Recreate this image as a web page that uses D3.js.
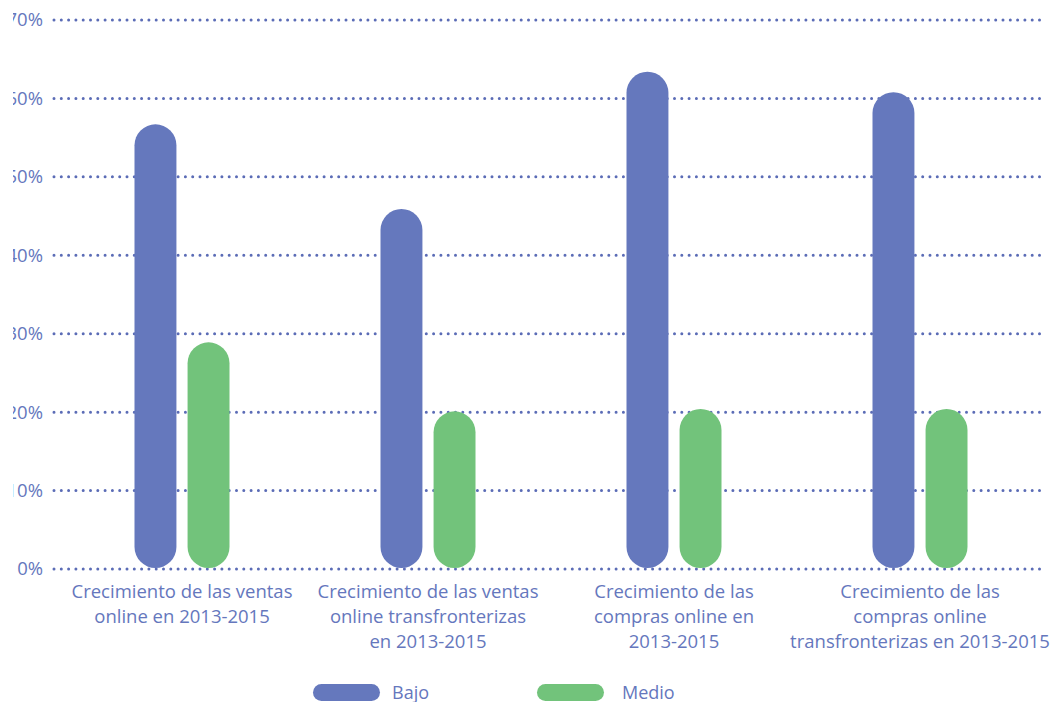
<!DOCTYPE html>
<html>
<head>
<meta charset="utf-8">
<script src="https://cdn.jsdelivr.net/npm/d3@7"></script>
<style>
  body { margin: 0; background: #fff; }
  svg text { font-family: "Open Sans", "Noto Sans", sans-serif; fill: #6577bd; }
</style>
</head>
<body>
<div id="chart"></div>
<script>
var categories = [
  ["Crecimiento de las ventas", "online en 2013-2015"],
  ["Crecimiento de las ventas", "online transfronterizas", "en 2013-2015"],
  ["Crecimiento de las", "compras online en", "2013-2015"],
  ["Crecimiento de las", "compras online", "transfronterizas en 2013-2015"]
];
var seriesNames = ["Bajo", "Medio"];
var bajo = [56.7, 45.9, 63.4, 60.8];
var medio = [28.9, 20.1, 20.4, 20.4];
var yTicks = [0, 10, 20, 30, 40, 50, 60, 70];

var width = 1055, height = 702;
var colors = { Bajo: "#6578bd", Medio: "#72c37b" };

var svg = d3
  .select("#chart")
  .append("svg")
  .attr("width", width)
  .attr("height", height);

var x = d3
  .scaleBand()
  .domain(d3.range(categories.length))
  .range([59, 1043]);

var x1 = d3
  .scaleBand()
  .domain(seriesNames)
  .range([x.bandwidth() / 2 - 47.5, x.bandwidth() / 2 + 47.5])
  .paddingInner(0.21);

var y = d3.scaleLinear().domain([0, 70]).range([569, 20]);

// dotted gridlines
svg
  .append("g")
  .selectAll("line")
  .data(yTicks)
  .enter()
  .append("line")
  .attr("x1", 54)
  .attr("x2", 1041)
  .attr("y1", d => y(d))
  .attr("y2", d => y(d))
  .attr("stroke", "#5b6cb6")
  .attr("stroke-width", 3)
  .attr("stroke-linecap", "round")
  .attr("stroke-dasharray", "0 7.3");

// the original crops the tick labels on the left
svg
  .append("clipPath")
  .attr("id", "yclip")
  .append("rect")
  .attr("x", 13)
  .attr("y", 0)
  .attr("width", 60)
  .attr("height", height);

var yAxis = d3
  .axisLeft(y)
  .tickValues(yTicks)
  .tickSize(0)
  .tickPadding(0)
  .tickFormat(d => d + "%");

var gy = svg
  .append("g")
  .attr("clip-path", "url(#yclip)")
  .append("g")
  .attr("transform", "translate(43,0)")
  .call(yAxis);
gy.select(".domain").remove();
gy.selectAll("text")
  .style("font-size", "18.5px")
  .style("font-family", "'Open Sans', 'Noto Sans', sans-serif")
  .attr("fill", "#6577bd");

// bars
var data = [];
for (let i = 0; i < categories.length; i++) {
  data.push({ cat: i, series: "Bajo", value: bajo[i] });
  data.push({ cat: i, series: "Medio", value: medio[i] });
}

svg
  .append("g")
  .selectAll(".bar")
  .data(data)
  .enter()
  .append("rect")
  .attr("class", "bar")
  .attr("x", d => x(d.cat) + x1(d.series))
  .attr("width", x1.bandwidth())
  .attr("y", d => y(d.value))
  .attr("height", d => y(0) - 1 - y(d.value))
  .attr("rx", x1.bandwidth() / 2)
  .attr("fill", d => colors[d.series]);

// category labels
var labels = svg
  .append("g")
  .selectAll(".cat")
  .data(categories)
  .enter()
  .append("text")
  .attr("class", "cat")
  .attr("text-anchor", "middle")
  .style("font-size", "18.5px");

labels
  .selectAll("tspan")
  .data((d, i) => d.map(line => ({ line: line, i: i })))
  .enter()
  .append("tspan")
  .attr("x", d => x(d.i) + x.bandwidth() / 2)
  .attr("y", (d, j) => 598 + j * 25)
  .text(d => d.line);

// legend
var legendX = [313, 537];
var legend = svg
  .append("g")
  .selectAll(".legend")
  .data(seriesNames)
  .enter()
  .append("g")
  .attr("transform", (d, i) => "translate(" + legendX[i] + ",684)");

legend
  .append("rect")
  .attr("width", 67)
  .attr("height", 17)
  .attr("rx", 8.5)
  .attr("fill", d => colors[d]);

legend
  .append("text")
  .attr("x", (d, i) => (i === 0 ? 79 : 85))
  .attr("y", 14.5)
  .style("font-size", "18px")
  .text(d => d);
</script>
</body>
</html>
